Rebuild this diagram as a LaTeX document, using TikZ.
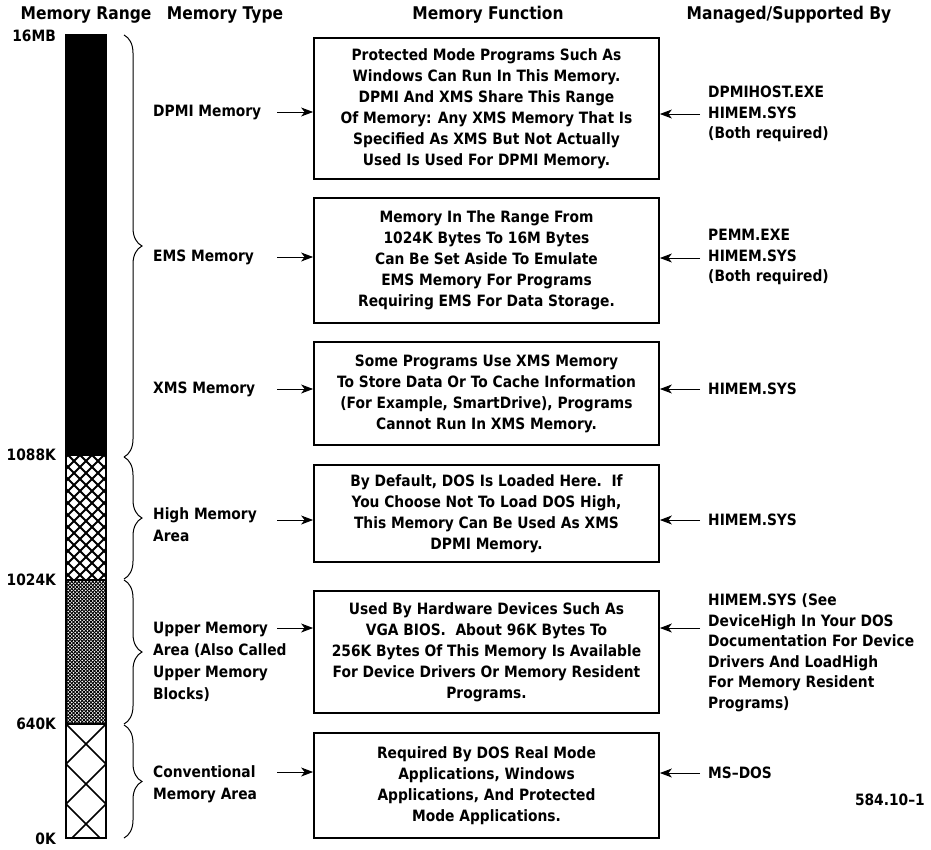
\documentclass[tikz,border=0pt]{standalone}
\usepackage{fontspec}
\setmainfont{DejaVu Sans}[FakeStretch=0.885]
\usetikzlibrary{arrows.meta,decorations.pathreplacing}
\begin{document}
\begin{tikzpicture}[x=1pt,y=-1pt,
  txt/.style={inner sep=0pt,font=\fontsize{15.6}{21}\selectfont\bfseries},
  hdr/.style={inner sep=0pt,font=\fontsize{17.5}{21}\selectfont\bfseries},
  fbox/.style={draw,line width=1.8pt,inner sep=0pt,align=center,minimum width=345pt,font=\fontsize{15.6}{21}\selectfont\bfseries},
  arr/.style={-{Stealth[length=12pt,width=9pt,inset=3.5pt]},line width=0.9pt},
  brc/.style={decorate,decoration={brace,amplitude=18pt},line width=1pt},
  typ/.style={txt,anchor=west,align=left,font=\fontsize{15.6}{22}\selectfont\bfseries},
  mgr/.style={txt,anchor=west,align=left,font=\fontsize{15.6}{20.5}\selectfont\bfseries},
  rng/.style={txt,anchor=east}]
\useasboundingbox (0,0) rectangle (931,849);
% headers
\node[hdr] (h1) at (86,15) {Memory Range};
\node[hdr] (h2) at (225,15) {Memory Type};
\node[hdr] (h3) at (488,15) {Memory Function};
\node[hdr] (h4) at (789,15) {Managed/Supported By};
% range labels
\node[rng] (r16) at (56,36) {16MB};
\node[rng] (r1088) at (56,455) {1088K};
\node[rng] (r1024) at (56,580) {1024K};
\node[rng] (r640) at (56,724) {640K};
\node[rng] (r0) at (56,839) {0K};
% memory bar
\fill[black] (66,35) rectangle (106,455);
\begin{scope}
  \clip (66,455) rectangle (106,580);
  \foreach \c in {-150,-138,...,160} {
    \draw[line width=1.8pt] (86+\c,455) -- ++(140,140);
    \draw[line width=1.8pt] (86+\c,455) -- ++(-140,140);
  }
\end{scope}
\begin{scope}
  \clip (66,580) rectangle (106,724);
  \foreach \c in {-170,-166.5,...,170} {
    \draw[line width=1pt] (86+\c,580) -- ++(160,160);
    \draw[line width=1pt] (86+\c,580) -- ++(-160,160);
  }
\end{scope}
\begin{scope}
  \clip (66,724) rectangle (106,838);
  \foreach \c in {-160,-120,...,160} {
    \draw[line width=1.6pt] (66+\c,724) -- ++(130,130);
    \draw[line width=1.6pt] (66+\c,724) -- ++(-130,130);
  }
\end{scope}
\draw[line width=1.5pt] (66,35) rectangle (106,838);
\draw[line width=1.2pt] (66,455) -- (106,455) (66,580) -- (106,580) (66,724) -- (106,724);
% braces
\draw[brc] (124,35) -- (124,457);
\draw[brc] (124,457) -- (124,579);
\draw[brc] (124,580) -- (124,724);
\draw[brc] (124,725) -- (124,838);
% memory types
\node[typ] (t1) at (153,112) {DPMI Memory};
\node[typ] (t2) at (153,257) {EMS Memory};
\node[typ] (t3) at (153,389) {XMS Memory};
\node[typ] (t4) at (153,525) {High Memory\\Area};
\node[typ] (t5) at (153,662) {Upper Memory\\Area (Also Called\\Upper Memory\\Blocks)};
\node[typ] (t6) at (153,784) {Conventional\\Memory Area};
% function boxes
\node[fbox,minimum height=141pt] (b1) at (486.5,108.5) {Protected Mode Programs Such As\\Windows Can Run In This Memory.\\DPMI And XMS Share This Range\\Of Memory: Any XMS Memory That Is\\Specified As XMS But Not Actually\\Used Is Used For DPMI Memory.};
\node[fbox,minimum height=125pt] (b2) at (486.5,260.5) {Memory In The Range From\\1024K Bytes To 16M Bytes\\Can Be Set Aside To Emulate\\EMS Memory For Programs\\Requiring EMS For Data Storage.};
\node[fbox,minimum height=103pt] (b3) at (486.5,393.5) {Some Programs Use XMS Memory\\To Store Data Or To Cache Information\\(For Example, SmartDrive), Programs\\Cannot Run In XMS Memory.};
\node[fbox,minimum height=97pt] (b4) at (486.5,513.5) {By Default, DOS Is Loaded Here.\ \ If\\You Choose Not To Load DOS High,\\This Memory Can Be Used As XMS\\DPMI Memory.};
\node[fbox,minimum height=122pt] (b5) at (486.5,652) {Used By Hardware Devices Such As\\VGA BIOS.\ \ About 96K Bytes To\\256K Bytes Of This Memory Is Available\\For Device Drivers Or Memory Resident\\Programs.};
\node[fbox,minimum height=105pt] (b6) at (486.5,785.5) {Required By DOS Real Mode\\Applications, Windows\\Applications, And Protected\\Mode Applications.};
% managers
\node[mgr] (m1) at (708,114) {DPMIHOST.EXE\\HIMEM.SYS\\(Both required)};
\node[mgr] (m2) at (708,257) {PEMM.EXE\\HIMEM.SYS\\(Both required)};
\node[mgr] (m3) at (708,389) {HIMEM.SYS};
\node[mgr] (m4) at (708,520) {HIMEM.SYS};
\node[mgr] (m5) at (708,653) {HIMEM.SYS (See\\DeviceHigh In Your DOS\\Documentation For Device\\Drivers And LoadHigh\\For Memory Resident\\Programs)};
\node[mgr] (m6) at (708,773) {MS–DOS};
\node[txt,anchor=east] (fig) at (925,800) {584.10–1};
% arrows left
\coordinate (la1) at (277,112);
\coordinate (la2) at (277,257);
\coordinate (la3) at (277,389);
\coordinate (la4) at (277,520);
\coordinate (la5) at (277,628);
\coordinate (la6) at (277,772);
\draw[arr] (la1) -- (la1 -| b1.west);
\draw[arr] (la2) -- (la2 -| b2.west);
\draw[arr] (la3) -- (la3 -| b3.west);
\draw[arr] (la4) -- (la4 -| b4.west);
\draw[arr] (la5) -- (la5 -| b5.west);
\draw[arr] (la6) -- (la6 -| b6.west);
% arrows right
\coordinate (ra1) at (700,114);
\coordinate (ra2) at (700,258);
\coordinate (ra3) at (700,389);
\coordinate (ra4) at (700,520);
\coordinate (ra5) at (700,628);
\coordinate (ra6) at (700,773);
\draw[arr] (ra1) -- (ra1 -| b1.east);
\draw[arr] (ra2) -- (ra2 -| b2.east);
\draw[arr] (ra3) -- (ra3 -| b3.east);
\draw[arr] (ra4) -- (ra4 -| b4.east);
\draw[arr] (ra5) -- (ra5 -| b5.east);
\draw[arr] (ra6) -- (ra6 -| b6.east);
\end{tikzpicture}
\end{document}
